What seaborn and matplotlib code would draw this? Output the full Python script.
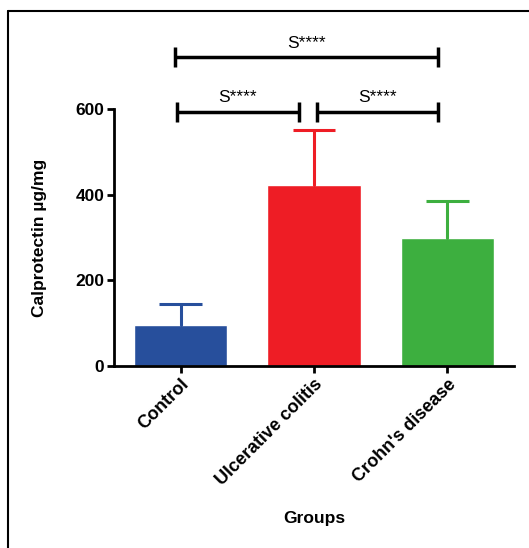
import matplotlib
matplotlib.use("Agg")
import matplotlib.pyplot as plt
import seaborn as sns
import pandas as pd
from matplotlib.lines import Line2D

# values
groups = ["Control", "Ulcerative colitis", "Crohn's disease"]
means = [96, 423, 299]
sd = [49, 128, 86]
colors = ["#274F9C", "#EE1D25", "#3DAF3F"]

# significance brackets: (x_start, x_end, y, label)
brackets = [
    (-0.03, 0.89, 593, "S****"),
    (1.02, 1.93, 593, "S****"),
    (-0.04, 1.93, 721, "S****"),
]

sns.set_style("white")
plt.rcParams["font.family"] = ["Liberation Sans", "DejaVu Sans"]
plt.rcParams["text.color"] = "black"
plt.rcParams["axes.labelcolor"] = "black"
plt.rcParams["xtick.color"] = "black"
plt.rcParams["ytick.color"] = "black"

df = pd.DataFrame({"group": groups, "value": means})

fig = plt.figure(figsize=(5.29, 5.48), dpi=100)
ax = fig.add_axes([114 / 529, 1 - 366 / 548, 400 / 529, 257 / 548])

sns.barplot(data=df, x="group", y="value", hue="group", palette=colors,
            width=0.7, legend=False, ax=ax, saturation=1)

# upper-only error bars (mean + SD)
cap_half = 0.16
for i, (m, s, c) in enumerate(zip(means, sd, colors)):
    ax.plot([i, i], [m, m + s], color=c, lw=2.2, zorder=3)
    ax.plot([i - cap_half, i + cap_half], [m + s, m + s], color=c, lw=2.2,
            zorder=3, solid_capstyle="butt")

ax.set_xlim(-0.5, 2.5)
ax.set_ylim(0, 600)
ax.set_yticks([0, 200, 400, 600])

for side in ["top", "right"]:
    ax.spines[side].set_visible(False)
for side in ["left", "bottom"]:
    ax.spines[side].set_linewidth(2)
    ax.spines[side].set_color("black")

ax.tick_params(axis="both", direction="out", length=5, width=2,
               color="black", labelsize=12.5, pad=2)
ax.tick_params(axis="x", bottom=True)
ax.tick_params(axis="y", left=True)
for lbl in ax.get_yticklabels():
    lbl.set_fontweight("bold")
ax.set_xticks(range(len(groups)))
ax.set_xticklabels(groups, rotation=45, ha="right", rotation_mode="anchor",
                   fontweight="bold", fontsize=13)

ax.set_xlabel("Groups", fontsize=12.5, fontweight="bold", labelpad=16)
ax.set_ylabel("Calprotectin µg/mg", fontsize=12.5, fontweight="bold", labelpad=20)

for x0, x1, y, label in brackets:
    ax.plot([x0, x1], [y, y], color="black", lw=2.5, clip_on=False,
            solid_capstyle="butt")
    for xx in (x0, x1):
        ax.plot([xx, xx], [y - 23, y + 23], color="black", lw=2.5,
                clip_on=False, solid_capstyle="butt")
    ax.text((x0 + x1) / 2, y + 33, label, ha="center", va="center",
            fontsize=12.5, family=["Liberation Sans", "DejaVu Sans"],
            color="black", clip_on=False)

# outer frame (cropped on the right and bottom)
fig.add_artist(Line2D([8 / 529, 8 / 529], [0, 1 - 11 / 548],
                      transform=fig.transFigure, color="black", lw=1.5))
fig.add_artist(Line2D([8 / 529, 1], [1 - 11 / 548, 1 - 11 / 548],
                      transform=fig.transFigure, color="black", lw=1.5))

fig.savefig("out.png", dpi=100)
